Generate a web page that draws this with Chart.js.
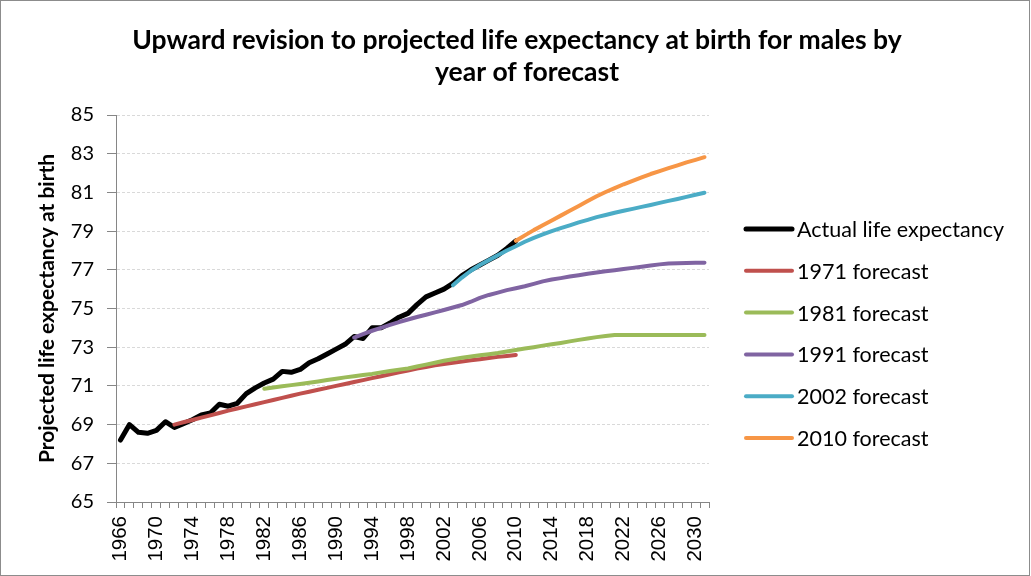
<!DOCTYPE html>
<html lang="en">
<head>
    <meta charset="UTF-8">
    <title>Upward revision to projected life expectancy</title>
    <script src="https://cdn.jsdelivr.net/npm/chart.js"></script>
    <style>
        body { margin: 0; background: #fff; }
        #wrap { width: 1031px; height: 576px; position: relative; }
    </style>
</head>
<body>
<div id="wrap"><canvas id="myChart"></canvas></div>

<script>
    // years on the x axis
    var years = [1966, 1967, 1968, 1969, 1970, 1971, 1972, 1973, 1974, 1975,
        1976, 1977, 1978, 1979, 1980, 1981, 1982, 1983, 1984, 1985,
        1986, 1987, 1988, 1989, 1990, 1991, 1992, 1993, 1994, 1995,
        1996, 1997, 1998, 1999, 2000, 2001, 2002, 2003, 2004, 2005,
        2006, 2007, 2008, 2009, 2010, 2011, 2012, 2013, 2014, 2015,
        2016, 2017, 2018, 2019, 2020, 2021, 2022, 2023, 2024, 2025,
        2026, 2027, 2028, 2029, 2030, 2031];

    // only these years get a label under the axis
    var tickYears = [1966, 1970, 1974, 1978, 1982, 1986, 1990, 1994, 1998,
        2002, 2006, 2010, 2014, 2018, 2022, 2026, 2030];

    var seriesNames = ['Actual life expectancy', '1971 forecast', '1981 forecast',
        '1991 forecast', '2002 forecast', '2010 forecast'];

    // first year of each series
    var startYears = [1966, 1972, 1982, 1992, 2003, 2010];

    var actual = [68.2, 69.0, 68.6, 68.55, 68.7, 69.15, 68.85, 69.05, 69.25, 69.5,
        69.6, 70.05, 69.95, 70.1, 70.6, 70.9, 71.15, 71.35, 71.75, 71.7,
        71.85, 72.2, 72.4, 72.65, 72.9, 73.15, 73.55, 73.45, 74.0, 74.0,
        74.25, 74.55, 74.75, 75.2, 75.6, 75.8, 76.0, 76.3, 76.7, 77.0,
        77.25, 77.5, 77.75, 78.1, 78.5];

    var f1971 = [69.0, 69.12, 69.24, 69.36, 69.48, 69.6, 69.72, 69.83, 69.94, 70.05,
        70.16, 70.27, 70.38, 70.49, 70.6, 70.7, 70.8, 70.9, 71.0, 71.1,
        71.2, 71.3, 71.4, 71.5, 71.6, 71.7, 71.8, 71.9, 71.98, 72.06,
        72.13, 72.2, 72.26, 72.32, 72.38, 72.44, 72.5, 72.55, 72.6];

    var f1981 = [70.85, 70.92, 70.98, 71.04, 71.1, 71.16, 71.23, 71.3, 71.37, 71.44,
        71.5, 71.56, 71.62, 71.7, 71.77, 71.84, 71.9, 72.0, 72.1, 72.2,
        72.3, 72.38, 72.45, 72.52, 72.58, 72.64, 72.7, 72.78, 72.86, 72.93,
        73.0, 73.08, 73.15, 73.22, 73.3, 73.38, 73.45, 73.52, 73.58, 73.63,
        73.63, 73.63, 73.63, 73.63, 73.63, 73.63, 73.63, 73.63, 73.63, 73.63];

    var f1991 = [73.5, 73.68, 73.85, 74.0, 74.15, 74.3, 74.43, 74.56, 74.68, 74.8,
        74.92, 75.05, 75.18, 75.35, 75.55, 75.7, 75.82, 75.95, 76.05, 76.15,
        76.27, 76.4, 76.5, 76.57, 76.65, 76.72, 76.8, 76.86, 76.92, 76.98,
        77.04, 77.1, 77.16, 77.22, 77.28, 77.32, 77.34, 77.35, 77.36, 77.37];

    var f2002 = [76.2, 76.6, 76.95, 77.25, 77.5, 77.75, 78.0, 78.22, 78.45, 78.65,
        78.83, 79.0, 79.15, 79.3, 79.45, 79.58, 79.72, 79.83, 79.95, 80.05,
        80.15, 80.25, 80.35, 80.46, 80.56, 80.66, 80.77, 80.88, 80.98];

    var f2010 = [78.5, 78.78, 79.05, 79.3, 79.55, 79.8, 80.05, 80.3, 80.55, 80.8,
        81.02, 81.22, 81.42, 81.6, 81.78, 81.95, 82.1, 82.25, 82.4, 82.55,
        82.68, 82.82];

    var allSeries = [actual, f1971, f1981, f1991, f2002, f2010];
    var colors = ['#000000', '#C0504D', '#9BBB59', '#8064A2', '#4BACC6', '#F79646'];
    var widths = [5, 4, 4, 4, 4, 4];

    var titleLines = ['Upward revision to projected life expectancy at birth for males by', 'year of forecast'];

    // pad a series with nulls so it lines up with the years
    function padSeries(values, startYear) {
        var out = [];
        for (var i = 0; i < years.length; i++) {
            var k = years[i] - startYear;
            out.push(k >= 0 && k < values.length ? values[k] : null);
        }
        return out;
    }

    var datasets = allSeries.map(function (vals, i) {
        return {
            label: seriesNames[i],
            data: padSeries(vals, startYears[i]),
            borderColor: colors[i],
            backgroundColor: colors[i],
            borderWidth: widths[i],
            borderCapStyle: 'round',
            borderJoinStyle: 'round',
            pointRadius: 0,
            pointHoverRadius: 0,
            tension: 0,
            fill: false,
            order: allSeries.length - i
        };
    });

    // legend on the right, drawn by hand so it sits where the original one is
    var sideLegend = {
        id: 'sideLegend',
        afterDraw: function (chart) {
            var ctx = chart.ctx;
            ctx.save();
            ctx.font = '21.5px Lato';
            ctx.textBaseline = 'middle';
            ctx.fillStyle = '#000';
            for (var i = 0; i < seriesNames.length; i++) {
                var y = 229 + i * 41.8;
                ctx.strokeStyle = colors[i];
                ctx.lineWidth = widths[i];
                ctx.lineCap = 'round';
                ctx.beginPath();
                ctx.moveTo(746, y);
                ctx.lineTo(792, y);
                ctx.stroke();
                ctx.fillText(seriesNames[i], 797, y + 1);
            }
            ctx.restore();
        }
    };

    // frame and title, centred on the whole picture like the original
    var frame = {
        id: 'frame',
        beforeDraw: function (chart) {
            var ctx = chart.ctx;
            ctx.save();
            ctx.fillStyle = '#fff';
            ctx.fillRect(0, 0, chart.width, chart.height);
            ctx.strokeStyle = '#8c8c8c';
            ctx.lineWidth = 1;
            ctx.strokeRect(0.5, 0.5, chart.width - 2, chart.height - 1);
            ctx.fillStyle = '#000';
            ctx.font = 'bold 26.5px Lato';
            ctx.textAlign = 'center';
            ctx.textBaseline = 'middle';
            ctx.fillText(titleLines[0], 517, 40);
            ctx.fillText(titleLines[1], 527, 72);
            ctx.restore();
        }
    };

    var config = {
        type: 'line',
        data: { labels: years, datasets: datasets },
        options: {
            responsive: true,
            maintainAspectRatio: false,
            animation: false,
            events: [],
            layout: { padding: { left: 20, right: 322, top: 115, bottom: 0 } },
            plugins: {
                legend: { display: false },
                tooltip: { enabled: false },
                title: { display: false }
            },
            scales: {
                x: {
                    type: 'category',
                    offset: true,
                    afterFit: function (scale) { scale.height = 74; },
                    grid: {
                        offset: true,
                        drawOnChartArea: false,
                        tickLength: 6,
                        tickColor: '#868686'
                    },
                    border: { color: '#868686', width: 1 },
                    ticks: {
                        autoSkip: false,
                        minRotation: 90,
                        maxRotation: 90,
                        padding: 8,
                        color: '#000',
                        font: { family: 'Liberation Sans', size: 20.5 },
                        callback: function (value, index) {
                            var y = years[index];
                            return tickYears.indexOf(y) >= 0 ? String(y) : '';
                        }
                    }
                },
                y: {
                    min: 65,
                    max: 85,
                    afterFit: function (scale) { scale.width = 96; },
                    grid: {
                        color: '#d9d9d9',
                        tickColor: '#868686',
                        tickLength: 9
                    },
                    border: { color: '#868686', width: 1, dash: [3, 2] },
                    ticks: {
                        stepSize: 2,
                        padding: 13,
                        color: '#000',
                        font: { family: 'Lato', size: 20 }
                    },
                    title: {
                        display: true,
                        text: 'Projected life expectancy at birth',
                        color: '#000',
                        font: { family: 'Lato', size: 21, weight: 'bold' },
                        padding: { top: 15, bottom: 0 }
                    }
                }
            }
        },
        plugins: [frame, sideLegend]
    };

    var ctx = document.getElementById('myChart').getContext('2d');
    var chart = new Chart(ctx, config);
</script>
</body>
</html>
